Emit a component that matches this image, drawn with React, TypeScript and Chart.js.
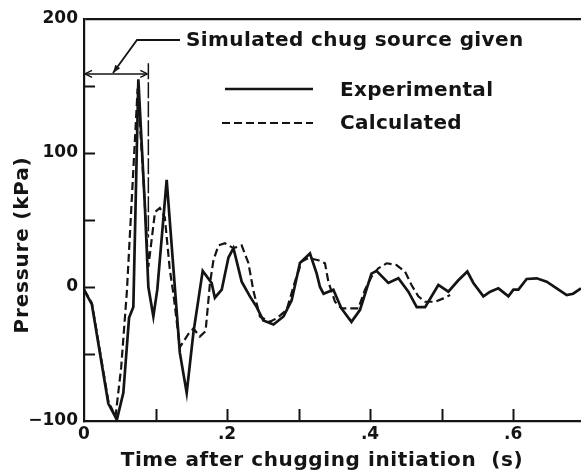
import React, { useEffect, useRef } from "react";
import { Chart, registerables } from "chart.js";

Chart.register(...registerables);

// Experimental (solid) series
const expTime = [
  0, 0.011, 0.034, 0.046, 0.055, 0.063, 0.069, 0.076, 0.085, 0.09, 0.097, 0.1025,
  0.1156, 0.134, 0.1436, 0.153, 0.166, 0.1785, 0.183, 0.1926, 0.202, 0.209, 0.2205,
  0.232, 0.2415, 0.2508, 0.265, 0.279, 0.2904, 0.302, 0.316, 0.3254, 0.33, 0.335,
  0.3487, 0.36, 0.374, 0.386, 0.402, 0.409, 0.4256, 0.4396, 0.4536, 0.4653, 0.477,
  0.4955, 0.5095, 0.5235, 0.536, 0.5445, 0.5585, 0.568, 0.5795, 0.5935, 0.6005,
  0.6075, 0.619, 0.633, 0.647, 0.661, 0.675, 0.684, 0.695,
];
const expPressure = [
  -2, -13, -87, -99, -79, -23, -15, 155, 62, 0, -22, -2,
  80, -49, -79, -34, 12, 3, -8, -2, 22, 29, 4,
  -7, -15, -25, -28, -22, -10, 18, 25, 10, 0, -5,
  -2, -16, -26, -17, 10, 12, 3, 6.5, -3.5, -15, -15,
  1.5, -3.5, 5, 11.5, 3, -7, -3.5, -1, -7, -2,
  -2, 6, 6.5, 4, -1, -6, -5, -1,
];

// Calculated (dashed) series
const calcTime = [
  0, 0.011, 0.034, 0.044, 0.052, 0.06, 0.075, 0.082, 0.09, 0.0993, 0.106, 0.113,
  0.12, 0.125, 0.134, 0.146, 0.153, 0.162, 0.17, 0.176, 0.181, 0.188, 0.197, 0.209,
  0.2205, 0.2298, 0.237, 0.246, 0.26, 0.2705, 0.2834, 0.295, 0.3044, 0.314, 0.3277,
  0.337, 0.3417, 0.351, 0.36, 0.3697, 0.3836, 0.393, 0.402, 0.4116, 0.4233, 0.437,
  0.449, 0.458, 0.4675, 0.477, 0.491, 0.5025, 0.512,
];
const calcPressure = [
  -2, -12, -85, -97, -60, -3, 148, 90, 15, 56, 59, 52,
  13, -5, -45, -35, -31, -37, -33, 2, 20, 31, 32.6, 29,
  31, 18, -3, -22, -26, -23, -17, 4, 19, 21.6, 20,
  17.7, 4, -11, -16, -16, -16, -2, 7.7, 14, 17.7, 16.4,
  11.4, 1.5, -7, -11, -11, -8.5, -6,
];

const xTicks = [0, 0.1, 0.2, 0.3, 0.4, 0.5, 0.6];
const xTickLabels = ["0", "", ".2", "", ".4", "", ".6"];
const yTicks = [-100, -50, 0, 50, 100, 150, 200];
const yTickLabels = ["\u2212100", "", "0", "", "100", "", "200"];

const sourceEnd = 0.09; // end of simulated chug source (s)
const sourceArrowLevel = 159; // kPa
const sourceLineTop = 167;
const sourceLineBottom = 37;

const FONT = "'DejaVu Sans', sans-serif";
const INK = "#141414";

function arrowHead(ctx: CanvasRenderingContext2D, x: number, y: number, ang: number, len: number, w: number) {
  ctx.save();
  ctx.translate(x, y);
  ctx.rotate(ang);
  ctx.beginPath();
  ctx.moveTo(0, 0);
  ctx.lineTo(-len, -w);
  ctx.moveTo(0, 0);
  ctx.lineTo(-len, w);
  ctx.stroke();
  ctx.restore();
}

const decorPlugin = {
  id: "decor",
  afterDraw(chart: any) {
    const { ctx, chartArea, scales } = chart;
    const xs = scales.x;
    const ys = scales.y;
    ctx.save();
    ctx.strokeStyle = INK;
    ctx.fillStyle = INK;
    // inner ticks
    ctx.lineWidth = 2;
    for (const v of yTicks) {
      if (v === -100 || v === 200) continue;
      const py = Math.round(ys.getPixelForValue(v)) + 0.5;
      ctx.beginPath();
      ctx.moveTo(chartArea.left, py);
      ctx.lineTo(chartArea.left + 11, py);
      ctx.stroke();
    }
    for (const v of xTicks) {
      if (v === 0) continue;
      const px = Math.round(xs.getPixelForValue(v)) + 0.5;
      ctx.beginPath();
      ctx.moveTo(px, chartArea.bottom);
      ctx.lineTo(px, chartArea.bottom - 12);
      ctx.stroke();
    }

    // source bracket
    const x0 = xs.getPixelForValue(0);
    const x1 = xs.getPixelForValue(sourceEnd);
    const ya = ys.getPixelForValue(sourceArrowLevel);
    ctx.lineWidth = 1.5;
    ctx.setLineDash([16, 3]);
    ctx.beginPath();
    ctx.moveTo(x1, ys.getPixelForValue(sourceLineTop));
    ctx.lineTo(x1, ys.getPixelForValue(sourceLineBottom));
    ctx.stroke();
    ctx.setLineDash([]);
    ctx.beginPath();
    ctx.moveTo(x0 + 1, ya);
    ctx.lineTo(x1 - 1, ya);
    ctx.stroke();
    arrowHead(ctx, x0 + 1, ya, Math.PI, 7, 3.5);
    arrowHead(ctx, x1 - 1, ya, 0, 7, 3.5);

    // leader line to the label
    const lx = chartArea.left + 29;
    const ly = ya - 1;
    ctx.lineWidth = 1.8;
    ctx.beginPath();
    ctx.moveTo(180, 40);
    ctx.lineTo(137, 40);
    ctx.lineTo(lx, ly);
    ctx.stroke();
    const ang = Math.atan2(ly - 40, lx - 137);
    ctx.beginPath();
    ctx.save();
    ctx.translate(lx, ly);
    ctx.rotate(ang);
    ctx.moveTo(0, 0);
    ctx.lineTo(-8, -3);
    ctx.lineTo(-8, 3);
    ctx.closePath();
    ctx.fill();
    ctx.restore();

    // texts
    ctx.textBaseline = "middle";
    ctx.textAlign = "left";
    ctx.font = `bold 20px ${FONT}`;
    (ctx as any).letterSpacing = "0.4px";
    ctx.fillText("Simulated chug source given", 186, 41);
    (ctx as any).letterSpacing = "0.3px";
    ctx.fillText("Experimental", 340, 91);
    ctx.fillText("Calculated", 340, 124);

    // legend samples
    ctx.lineWidth = 2.5;
    ctx.beginPath();
    ctx.moveTo(225, 89);
    ctx.lineTo(313, 89);
    ctx.stroke();
    ctx.lineWidth = 2.2;
    ctx.setLineDash([8, 4]);
    ctx.beginPath();
    ctx.moveTo(222, 123);
    ctx.lineTo(313, 123);
    ctx.stroke();
    ctx.setLineDash([]);

    // axis titles
    (ctx as any).letterSpacing = "0.6px";
    ctx.textAlign = "center";
    ctx.fillText("Time after chugging initiation  (s)", 322, 461);
    ctx.save();
    ctx.translate(23, 245);
    ctx.rotate(-Math.PI / 2);
    (ctx as any).letterSpacing = "0.8px";
    ctx.fillText("Pressure (kPa)", 0, 0);
    ctx.restore();
    ctx.restore();
  },
};

export default function App() {
  const ref = useRef<HTMLCanvasElement | null>(null);
  useEffect(() => {
    if (!ref.current) return;
    const chart = new Chart(ref.current, {
      type: "scatter",
      data: {
        datasets: [
          {
            label: "Experimental",
            data: expTime.map((t, i) => ({ x: t, y: expPressure[i] })),
            showLine: true,
            borderColor: INK,
            borderWidth: 2.7,
            pointRadius: 0,
            tension: 0,
          },
          {
            label: "Calculated",
            data: calcTime.map((t, i) => ({ x: t, y: calcPressure[i] })),
            showLine: true,
            borderColor: INK,
            borderWidth: 2.2,
            borderDash: [8, 4],
            pointRadius: 0,
            tension: 0,
          },
        ],
      },
      options: {
        responsive: false,
        animation: false,
        devicePixelRatio: 1,
        layout: { padding: { top: 19, right: 0, left: 0, bottom: 0 } },
        plugins: { legend: { display: false }, tooltip: { enabled: false } },
        scales: {
          x: {
            type: "linear",
            min: 0,
            max: 0.695,
            afterBuildTicks: (s: any) => {
              s.ticks = xTicks.map((v) => ({ value: v }));
            },
            afterFit: (s: any) => {
              s.height = 53;
            },
            ticks: {
              autoSkip: false,
              maxRotation: 0,
              padding: 3,
              color: INK,
              font: { family: FONT, weight: "bold", size: 17 },
              callback: (_v: any, i: number) => xTickLabels[i] ?? "",
            },
            grid: { drawOnChartArea: false, drawTicks: false },
            border: { display: true, color: INK, width: 2.2 },
          },
          y: {
            min: -100,
            max: 200,
            afterBuildTicks: (s: any) => {
              s.ticks = yTicks.map((v) => ({ value: v }));
            },
            afterFit: (s: any) => {
              s.width = 84;
            },
            ticks: {
              autoSkip: false,
              padding: 6,
              color: INK,
              font: { family: FONT, weight: "bold", size: 17 },
              callback: (_v: any, i: number) => yTickLabels[i] ?? "",
            },
            grid: {
              drawTicks: false,
              lineWidth: 2.2,
              color: (c: any) => (c.tick && c.tick.value === 200 ? INK : "rgba(0,0,0,0)"),
            },
            border: { display: true, color: INK, width: 2.2 },
          },
        },
      },
      plugins: [decorPlugin],
    });
    return () => chart.destroy();
  }, []);
  return (
    <div style={{ position: "fixed", left: 0, top: 0, width: 581, height: 474, background: "#fff" }}>
      <canvas ref={ref} width={581} height={474} />
    </div>
  );
}
